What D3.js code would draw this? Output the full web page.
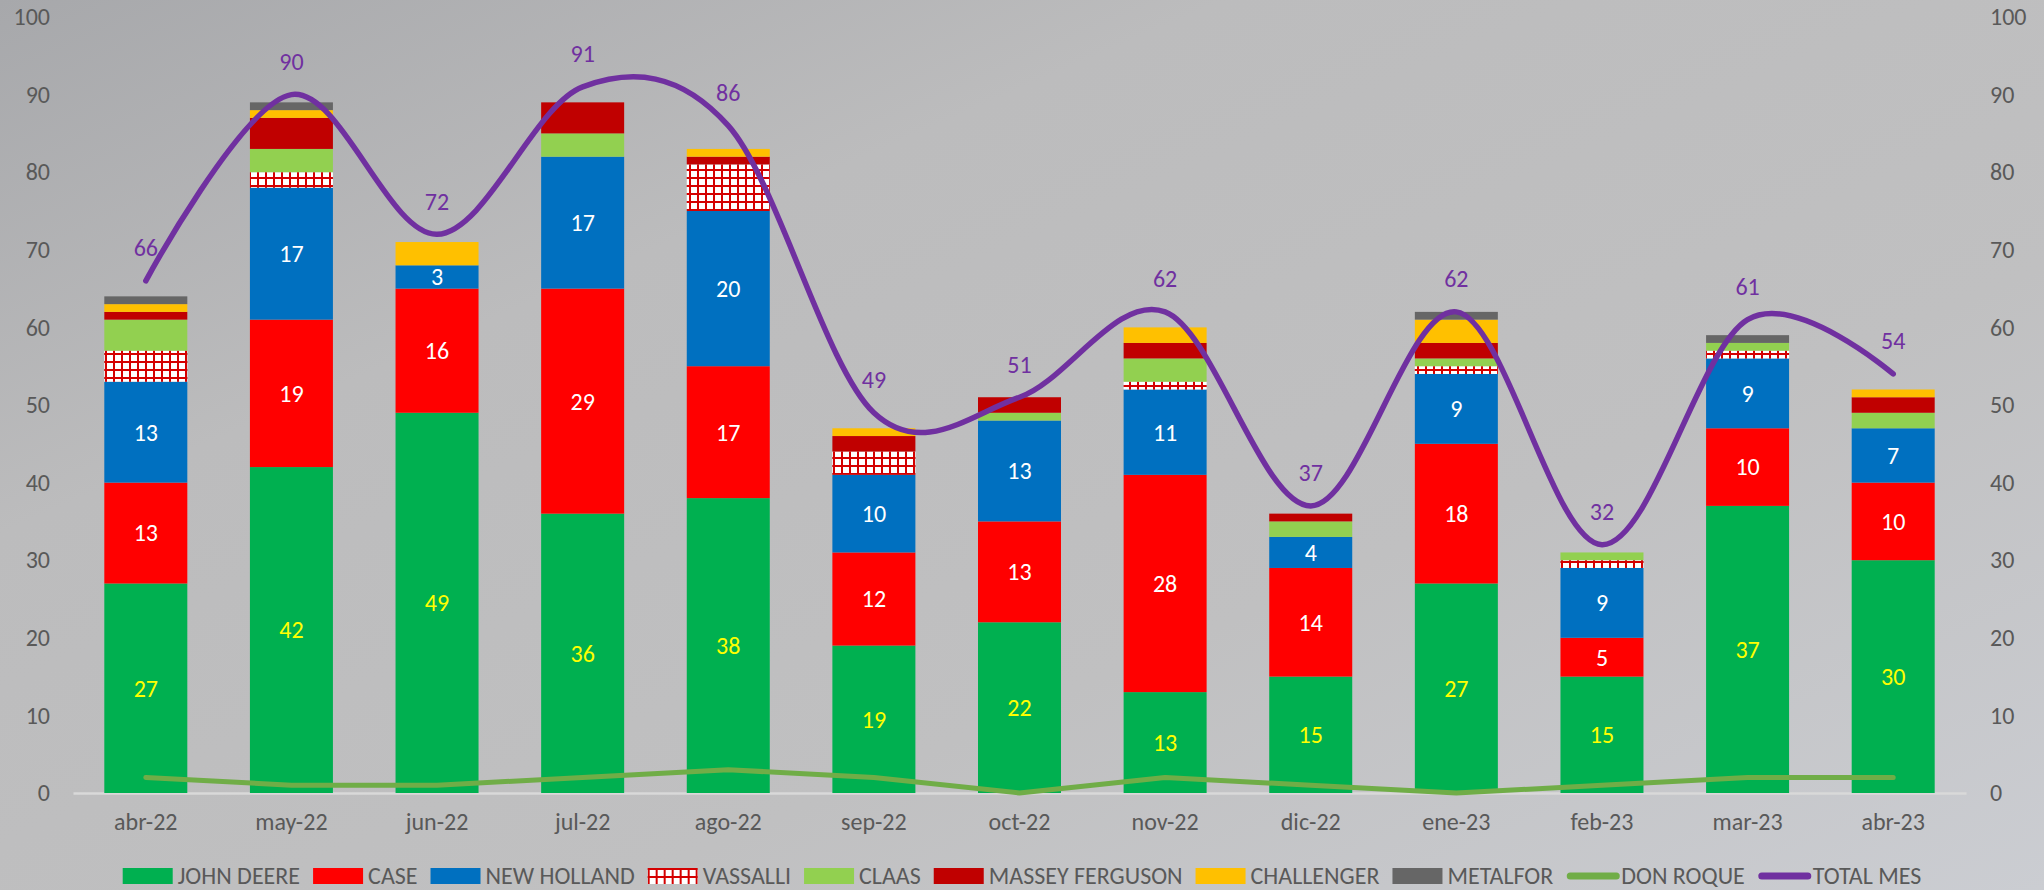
<!DOCTYPE html>
<html>
<head>
<meta charset="utf-8">
<script src="https://cdn.jsdelivr.net/npm/d3@7"></script>
<style>
  html, body { margin: 0; padding: 0; }
  body { width: 2044px; height: 890px; overflow: hidden; }
  text { font-family: Carlito, Lato, "Liberation Sans", sans-serif; }
</style>
</head>
<body>
<div id="chart"></div>
<script>
var svgWidth = 2044;
var svgHeight = 890;

// data
var months = ["abr-22", "may-22", "jun-22", "jul-22", "ago-22", "sep-22", "oct-22",
              "nov-22", "dic-22", "ene-23", "feb-23", "mar-23", "abr-23"];
var johnDeere   = [27, 42, 49, 36, 38, 19, 22, 13, 15, 27, 15, 37, 30];
var caseIH      = [13, 19, 16, 29, 17, 12, 13, 28, 14, 18,  5, 10, 10];
var newHolland  = [13, 17,  3, 17, 20, 10, 13, 11,  4,  9,  9,  9,  7];
var vassalli    = [ 4,  2,  0,  0,  6,  3,  0,  1,  0,  1,  1,  1,  0];
var claas       = [ 4,  3,  0,  3,  0,  0,  1,  3,  2,  1,  1,  1,  2];
var massey      = [ 1,  4,  0,  4,  1,  2,  2,  2,  1,  2,  0,  0,  2];
var challenger  = [ 1,  1,  3,  0,  1,  1,  0,  2,  0,  3,  0,  0,  1];
var metalfor    = [ 1,  1,  0,  0,  0,  0,  0,  0,  0,  1,  0,  1,  0];
var donRoque    = [ 2,  1,  1,  2,  3,  2,  0,  2,  1,  0,  1,  2,  2];
var totalMes    = [66, 90, 72, 91, 86, 49, 51, 62, 37, 62, 32, 61, 54];
var yTicks = [0, 10, 20, 30, 40, 50, 60, 70, 80, 90, 100];

var series = [
  {name: "JOHN DEERE", values: johnDeere, color: "#00B050", label: "#FFFF00"},
  {name: "CASE", values: caseIH, color: "#FF0000", label: "#FFFFFF"},
  {name: "NEW HOLLAND", values: newHolland, color: "#0070C0", label: "#FFFFFF"},
  {name: "VASSALLI", values: vassalli, color: "url(#vassalliPattern)", label: null},
  {name: "CLAAS", values: claas, color: "#92D050", label: null},
  {name: "MASSEY FERGUSON", values: massey, color: "#C00000", label: null},
  {name: "CHALLENGER", values: challenger, color: "#FFC000", label: null},
  {name: "METALFOR", values: metalfor, color: "#666666", label: null}
];

var margin = {top: 17, right: 78, bottom: 97, left: 73};
var width = svgWidth - margin.left - margin.right;
var height = svgHeight - margin.top - margin.bottom;

var svg = d3.select("#chart")
  .append("svg")
  .attr("width", svgWidth)
  .attr("height", svgHeight);

var defs = svg.append("defs");

var bg = defs.append("linearGradient")
  .attr("id", "bgGrad")
  .attr("x1", "0").attr("y1", "0").attr("x2", "1").attr("y2", "1");
bg.append("stop").attr("offset", "0").attr("stop-color", "#a7a8ab");
bg.append("stop").attr("offset", "0.3").attr("stop-color", "#bcbcbd");
bg.append("stop").attr("offset", "0.65").attr("stop-color", "#c0c0c1");
bg.append("stop").attr("offset", "1").attr("stop-color", "#cbcdd2");

// red grid on white for VASSALLI
var pat = defs.append("pattern")
  .attr("id", "vassalliPattern")
  .attr("patternUnits", "userSpaceOnUse")
  .attr("width", 8).attr("height", 8);
pat.append("rect").attr("width", 8).attr("height", 8).attr("fill", "#D40000");
pat.append("rect").attr("x", 2).attr("y", 2).attr("width", 6).attr("height", 6).attr("fill", "#FFFFFF");

svg.append("rect")
  .attr("width", svgWidth)
  .attr("height", svgHeight)
  .attr("fill", "url(#bgGrad)");

var chartGroup = svg.append("g")
  .attr("transform", `translate(${margin.left}, ${margin.top})`);

// scales
var xScale = d3.scaleBand()
  .domain(months)
  .range([0, width])
  .paddingInner(0.43)
  .paddingOuter(0.215);

var yScale = d3.scaleLinear()
  .domain([0, 100])
  .range([height, 0]);

// axes
var yLeft = d3.axisLeft(yScale).tickValues(yTicks).tickSize(0).tickPadding(23);
var yRight = d3.axisRight(yScale).tickValues(yTicks).tickSize(0).tickPadding(24);

function styleAxis(g) {
  g.select(".domain").remove();
  g.selectAll("text").attr("fill", "#595959").style("font-size", "24px");
}

chartGroup.append("g").call(yLeft).call(styleAxis);
chartGroup.append("g")
  .attr("transform", `translate(${width}, 0)`)
  .call(yRight).call(styleAxis);

var xAxis = d3.axisBottom(xScale).tickSize(0).tickPadding(20);
var xg = chartGroup.append("g")
  .attr("transform", `translate(0, ${height})`)
  .call(xAxis);
xg.select(".domain").attr("stroke", "#d9d9d9").attr("stroke-width", 2.5);
xg.selectAll("text").attr("fill", "#595959").style("font-size", "24px");

// stacked bars
var table = months.map(function(m, i) {
  var row = {month: m};
  series.forEach(function(s) { row[s.name] = s.values[i]; });
  return row;
});
var stack = d3.stack().keys(series.map(function(s) { return s.name; }));
var stacked = stack(table);

stacked.forEach(function(layer, k) {
  var s = series[k];
  var g = chartGroup.append("g").attr("class", "layer");
  g.selectAll("rect")
    .data(layer.filter(function(d) { return d[1] > d[0]; }))
    .enter().append("rect")
    .attr("x", function(d) { return xScale(d.data.month); })
    .attr("y", function(d) { return yScale(d[1]); })
    .attr("width", xScale.bandwidth())
    .attr("height", function(d) { return yScale(d[0]) - yScale(d[1]); })
    .attr("fill", s.color);

  if (s.label) {
    g.selectAll("text")
      .data(layer.filter(function(d) { return d[1] > d[0]; }))
      .enter().append("text")
      .attr("x", function(d) { return xScale(d.data.month) + xScale.bandwidth() / 2; })
      .attr("y", function(d) { return yScale((d[0] + d[1]) / 2); })
      .attr("dy", "0.35em")
      .attr("text-anchor", "middle")
      .attr("fill", s.label)
      .style("font-size", "24px")
      .text(function(d) { return d[1] - d[0]; });
  }
});

// lines
var cx = function(d, i) { return xScale(months[i]) + xScale.bandwidth() / 2; };

var donLine = d3.line()
  .x(cx)
  .y(function(d) { return yScale(d); });

chartGroup.append("path")
  .datum(donRoque)
  .attr("d", donLine)
  .attr("fill", "none")
  .attr("stroke", "#70AD47")
  .attr("stroke-width", 5)
  .attr("stroke-linejoin", "round")
  .attr("stroke-linecap", "round");

var totalLine = d3.line()
  .x(cx)
  .y(function(d) { return yScale(d); })
  .curve(d3.curveCardinal.tension(0));

chartGroup.append("path")
  .datum(totalMes)
  .attr("d", totalLine)
  .attr("fill", "none")
  .attr("stroke", "#7030A0")
  .attr("stroke-width", 5.5)
  .attr("stroke-linecap", "round");

chartGroup.selectAll(".totalLabel")
  .data(totalMes)
  .enter().append("text")
  .attr("class", "totalLabel")
  .attr("x", cx)
  .attr("y", function(d) { return yScale(d) - 33; })
  .attr("dy", "0.35em")
  .attr("text-anchor", "middle")
  .attr("fill", "#7030A0")
  .style("font-size", "24px")
  .text(function(d) { return d; });

// legend
var legendItems = series.map(function(s) { return {name: s.name, color: s.color, type: "box"}; })
  .concat([{name: "DON ROQUE", color: "#70AD47", type: "line"},
           {name: "TOTAL MES", color: "#7030A0", type: "line"}]);

var legend = svg.append("g").attr("class", "legend");
var lx = 0;
legendItems.forEach(function(item) {
  var g = legend.append("g").attr("transform", `translate(${lx}, 0)`);
  if (item.type === "box") {
    g.append("rect")
      .attr("x", 0).attr("y", -8)
      .attr("width", 50).attr("height", 16)
      .attr("fill", item.color);
  } else {
    g.append("line")
      .attr("x1", 4).attr("x2", 50)
      .attr("y1", 0).attr("y2", 0)
      .attr("stroke", item.color)
      .attr("stroke-width", 7)
      .attr("stroke-linecap", "round");
  }
  var t = g.append("text")
    .attr("x", 55)
    .attr("dy", "0.35em")
    .attr("fill", "#595959")
    .style("font-size", "24px")
    .text(item.name);
  lx += 55 + t.node().getComputedTextLength() + 13;
});
lx -= 13;
legend.attr("transform", `translate(${(svgWidth - lx) / 2}, 876)`);
</script>
</body>
</html>
